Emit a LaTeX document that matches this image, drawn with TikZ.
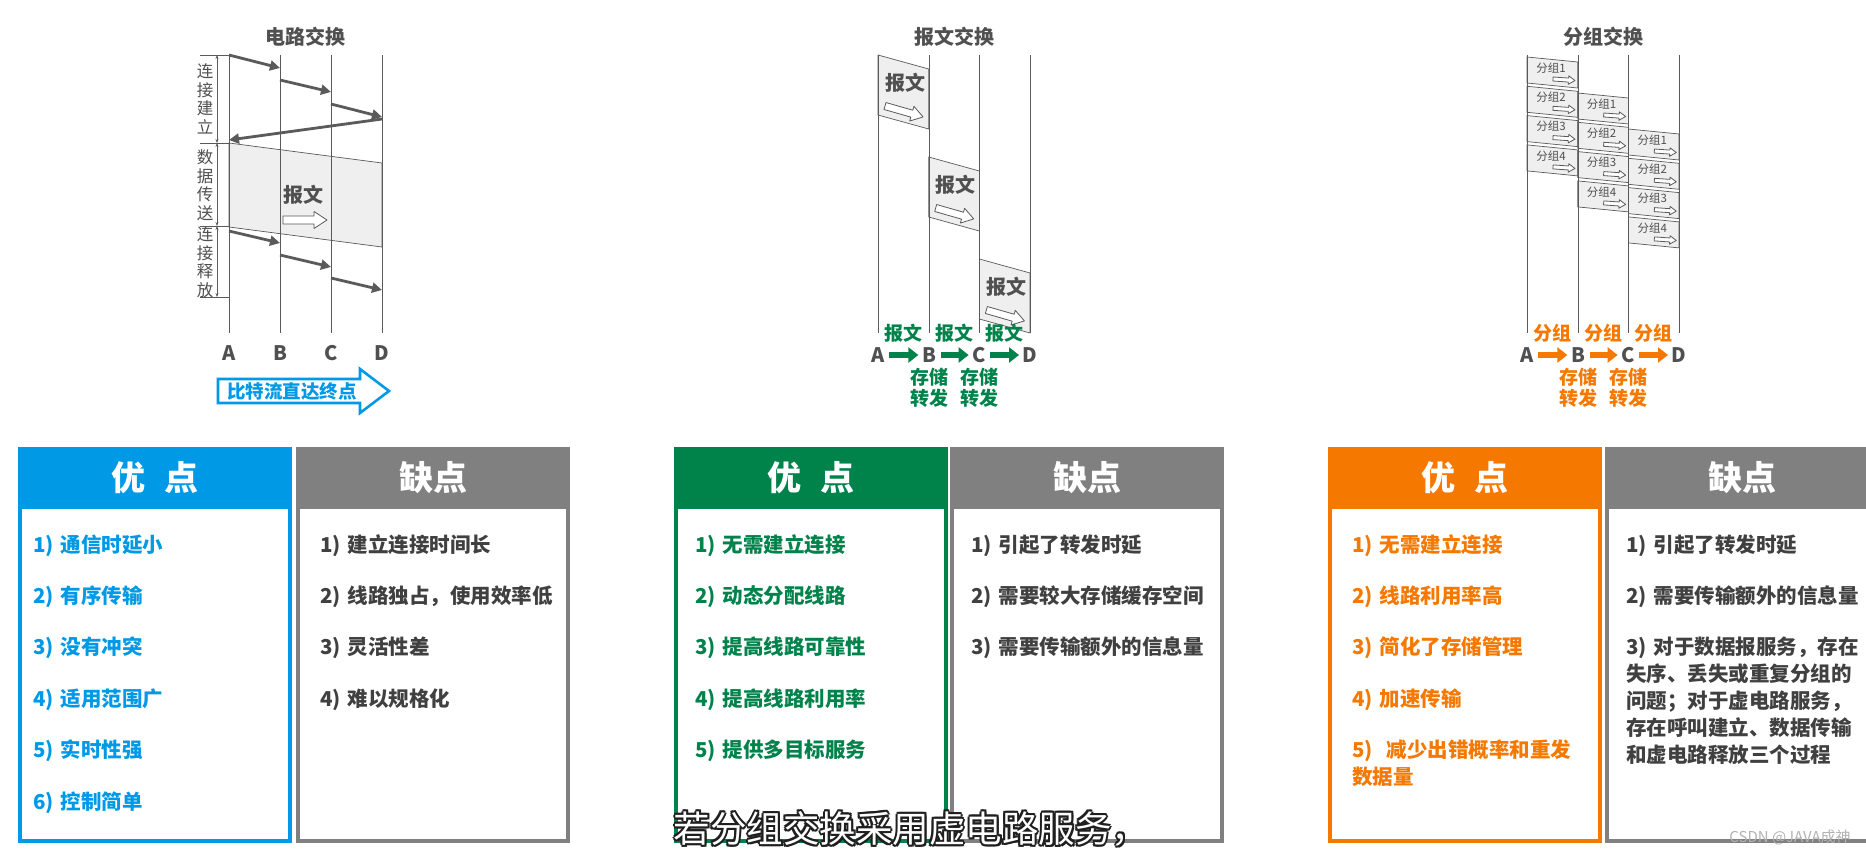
\documentclass[tikz,border=0pt]{standalone}
\usepackage{fontspec}
\setmainfont{Noto Sans CJK SC}
\usepackage{tikz}
\usetikzlibrary{arrows.meta,positioning,calc}

\definecolor{cblue}{HTML}{0099E6}
\definecolor{cgreen}{HTML}{00824B}
\definecolor{corange}{HTML}{F57800}
\definecolor{cgrayhead}{HTML}{808080}
\definecolor{ctext}{HTML}{404040}
\definecolor{cdark}{HTML}{505050}
\definecolor{cline}{HTML}{5A5A5A}
\definecolor{cfill}{HTML}{EFEFEF}

\tikzset{
  hollow/.pic={
    \draw[cline, line width=0.8pt, fill=white, line join=round]
      (0,-4) -- (31,-4) -- (31,-8.5) -- (44,0) -- (31,8.5) -- (31,4) -- (0,4) -- cycle;
  }
}

\begin{document}
\begin{tikzpicture}[x=1pt, y=-1pt,
  node distance=31pt,
  lane/.style={cline, line width=1pt},
  sig/.style={cline, line width=2.8pt, -{Triangle[length=10pt,width=10pt]}},
  phasebar/.style={cline, line width=0.7pt, {Stealth[length=4pt,width=3pt]}-{Stealth[length=4pt,width=3pt]}},
  phasetick/.style={cline, line width=0.7pt},
  databand/.style={fill=cfill, draw=cline, line width=0.7pt},
  msgbox/.style={fill=cfill, draw=cline, line width=0.7pt},
  pktbox/.style={fill=cfill, draw=cline, line width=0.7pt},
  heading/.style={font=\bfseries\fontsize{20}{24}\selectfont, text=cdark},
  station/.style={font=\bfseries\fontsize{20}{24}\selectfont, text=cdark, inner sep=2.5pt},
  phase/.style={font=\fontsize{16.5}{18.5}\selectfont, text=cdark, align=center, inner sep=0pt},
  msglbl/.style={font=\bfseries\fontsize{20}{24}\selectfont, text=cdark},
  pktlbl/.style={font=\fontsize{11.5}{13}\selectfont, text=cdark, inner sep=0pt},
  hoparrow/.style={line width=6pt, -{Triangle[length=10pt,width=15pt]}, shorten <=2pt, shorten >=1pt},
  hoptxt/.style={font=\bfseries\fontsize{19}{21}\selectfont, align=center, inner sep=0pt},
  bitflow/.style={draw=cblue, line width=2.6pt, fill=white},
  tablebox/.style={line width=4pt, fill=white},
  headtxt/.style={font=\bfseries\fontsize{34}{40}\selectfont, text=white},
  itm/.style={font=\bfseries\fontsize{20.5}{27}\selectfont, text width=240pt, align=left, inner sep=0pt, text height=15pt, text depth=5pt},
  subline/.style={font=\fontsize{36.5}{40}\selectfont, inner sep=0pt}
]
\useasboundingbox (0,0) rectangle (1866,853);
\fill[white] (0,0) rectangle (1866,853);

% ---------- circuit switching ----------
\node[heading] (ctitle) at (305,37) {电路交换};
\filldraw[databand] (229,143) -- (382,163) -- (382,247) -- (229,227) -- cycle;
\foreach \x/\n in {229/A,280/B,331/C,382/D} {
  \draw[lane] (\x,55) -- (\x,333);
  \node[station] (c\n) at (\x,353) {\n};
}
\node[msglbl] (cmsg) at (303,195) {报文};
\pic at (283,220) {hollow};
% setup
\draw[sig] (229,55) -- (280,68);
\draw[sig] (280,80) -- (331,92);
\draw[sig] (331,104) -- (382,117);
\draw[sig] (382,119) -- (229,140);
% release
\draw[sig] (229,231) -- (280,243);
\draw[sig] (280,255) -- (331,267);
\draw[sig] (331,278) -- (382,290);
% phases
\draw[phasebar] (217,55) -- (217,143);
\draw[phasebar] (217,143) -- (217,226);
\draw[phasebar] (217,226) -- (217,297);
\foreach \y in {55,143,226,297} \draw[phasetick] (200,\y) -- (229,\y);
\node[phase] (ph1) at (205,99) {连\\接\\建\\立};
\node[phase] (ph2) at (205,185) {数\\据\\传\\送};
\node[phase] (ph3) at (205,262) {连\\接\\释\\放};
\draw[bitflow] (218,379) -- (360,379) -- (360,369) -- (389,391) -- (360,413) -- (360,403) -- (218,403) -- cycle;
\node[font=\bfseries\fontsize{18.5}{22}\selectfont, text=cblue] (bittxt) at (292,391) {比特流直达终点};

% ---------- message switching ----------
\node[heading] (mtitle) at (954,37) {报文交换};
\foreach \h in {0,1,2} {
  \pgfmathsetmacro{\xl}{878+50.67*\h}
  \pgfmathsetmacro{\yt}{55+102*\h}
  \filldraw[msgbox] (\xl,\yt) -- (\xl+50.67,\yt+14) -- (\xl+50.67,\yt+74) -- (\xl,\yt+60) -- cycle;
  \node[msglbl] (msg\h) at (\xl+27,\yt+28) {报文};
  \pic[rotate=-16, scale=0.9] at (\xl+7,\yt+51) {hollow};
}
\foreach \x/\n in {878/A,929/B,979/C,1030/D} {
  \draw[lane] (\x,55) -- (\x,333);
  \node[station] (m\n) at (\x,355) {\n};
}
\draw[hoparrow, cgreen] (mA) -- (mB);
\draw[hoparrow, cgreen] (mB) -- (mC);
\draw[hoparrow, cgreen] (mC) -- (mD);
\foreach \x [count=\k] in {903.5,954,1004.5}
  \node[hoptxt, text=cgreen] (mhop\k) at (\x,333) {报文};
\node[hoptxt, text=cgreen] (mstore1) at (929,388) {存储\\转发};
\node[hoptxt, text=cgreen] (mstore2) at (979,388) {存储\\转发};

% ---------- packet switching ----------
\node[heading] (ptitle) at (1603,37) {分组交换};
\foreach \h in {0,1,2}
  \foreach \i in {1,...,4} {
    \pgfmathsetmacro{\xl}{1527+50.67*\h}
    \pgfmathsetmacro{\yt}{57+36*\h+29.3*(\i-1)}
    \filldraw[pktbox] (\xl,\yt) -- (\xl+50.67,\yt+5) -- (\xl+50.67,\yt+31) -- (\xl,\yt+26) -- cycle;
    \node[pktlbl] (pkt\h\i) at (\xl+24,\yt+11) {分组\i};
    \pic[rotate=-4, scale=0.5] at (\xl+26,\yt+22) {hollow};
  }
\foreach \x/\n in {1527/A,1578/B,1628/C,1679/D} {
  \draw[lane] (\x,55) -- (\x,333);
  \node[station] (p\n) at (\x,355) {\n};
}
\draw[hoparrow, corange] (pA) -- (pB);
\draw[hoparrow, corange] (pB) -- (pC);
\draw[hoparrow, corange] (pC) -- (pD);
\foreach \x [count=\k] in {1552.5,1603,1653.5}
  \node[hoptxt, text=corange] (phop\k) at (\x,333) {分组};
\node[hoptxt, text=corange] (pstore1) at (1578,388) {存储\\转发};
\node[hoptxt, text=corange] (pstore2) at (1628,388) {存储\\转发};

% ---------- tables ----------
\foreach \bx/\bc/\bt [count=\k] in {18/cblue/{优\hspace{0.56em}点}, 296/cgrayhead/缺点,
    674/cgreen/{优\hspace{0.56em}点}, 950/cgrayhead/缺点,
    1328/corange/{优\hspace{0.56em}点}, 1605/cgrayhead/缺点} {
  \draw[tablebox, draw=\bc] (\bx+2,449) rectangle (\bx+272,841);
  \fill[\bc] (\bx,447) rectangle (\bx+274,509);
  \node[headtxt] (head\k) at (\bx+137,478) {\bt};
}

\node[itm, text=cblue, anchor=west] (cp1) at (33,547) {1) 通信时延小};
\node[itm, text=cblue, below=of cp1] (cp2) {2) 有序传输};
\node[itm, text=cblue, below=of cp2] (cp3) {3) 没有冲突};
\node[itm, text=cblue, below=of cp3] (cp4) {4) 适用范围广};
\node[itm, text=cblue, below=of cp4] (cp5) {5) 实时性强};
\node[itm, text=cblue, below=of cp5] (cp6) {6) 控制简单};

\node[itm, text=ctext, anchor=west] (cc1) at (320,547) {1) 建立连接时间长};
\node[itm, text=ctext, below=of cc1] (cc2) {2) 线路独占，使用效率低};
\node[itm, text=ctext, below=of cc2] (cc3) {3) 灵活性差};
\node[itm, text=ctext, below=of cc3] (cc4) {4) 难以规格化};

\node[itm, text=cgreen, anchor=west] (mp1) at (695,547) {1) 无需建立连接};
\node[itm, text=cgreen, below=of mp1] (mp2) {2) 动态分配线路};
\node[itm, text=cgreen, below=of mp2] (mp3) {3) 提高线路可靠性};
\node[itm, text=cgreen, below=of mp3] (mp4) {4) 提高线路利用率};
\node[itm, text=cgreen, below=of mp4] (mp5) {5) 提供多目标服务};

\node[itm, text=ctext, anchor=west] (mc1) at (971,547) {1) 引起了转发时延};
\node[itm, text=ctext, below=of mc1] (mc2) {2) 需要较大存储缓存空间};
\node[itm, text=ctext, below=of mc2] (mc3) {3) 需要传输额外的信息量};

\node[itm, text=corange, anchor=west] (pp1) at (1352,547) {1) 无需建立连接};
\node[itm, text=corange, below=of pp1] (pp2) {2) 线路利用率高};
\node[itm, text=corange, below=of pp2] (pp3) {3) 简化了存储管理};
\node[itm, text=corange, below=of pp3] (pp4) {4) 加速传输};
\node[itm, text=corange, below=of pp4] (pp5) {5)\ \ 减少出错概率和重发\\数据量};

\node[itm, text=ctext, anchor=west] (pc1) at (1626,547) {1) 引起了转发时延};
\node[itm, text=ctext, below=of pc1] (pc2) {2) 需要传输额外的信息量};
\node[itm, text=ctext, below=of pc2] (pc3) {3) 对于数据报服务，存在\\失序、丢失或重复分组的\\问题；对于虚电路服务，\\存在呼叫建立、数据传输\\和虚电路释放三个过程};

% subtitle and mark
\foreach \dx/\dy [count=\k] in {2.2/0,-2.2/0,0/2.2,0/-2.2,1.6/1.6,-1.6/1.6,1.6/-1.6,-1.6/-1.6}
  \node[subline, text=black!88] (subsh\k) at (911+\dx,829+\dy) {若分组交换采用虚电路服务，};
\node[subline, text=white] (subtext) at (911,829) {若分组交换采用虚电路服务，};
\node[font=\fontsize{15}{18}\selectfont, text=black!30] (mark) at (1790,837) {CSDN @JAVA成神};
\end{tikzpicture}
\end{document}
